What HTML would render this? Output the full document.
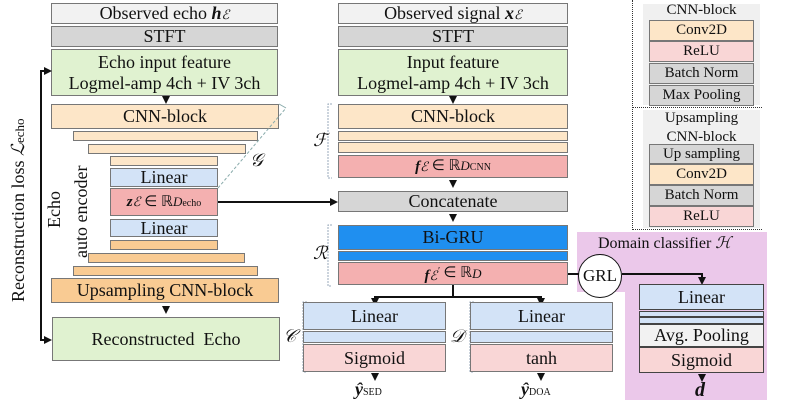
<!DOCTYPE html>
<html><head><meta charset="utf-8"><style>
body{margin:0;width:789px;height:400px;background:#fff;position:relative;overflow:hidden;font-family:"Liberation Serif",serif;color:#111}
.b{position:absolute;box-sizing:border-box;border:1px solid #777;display:flex;align-items:center;justify-content:center;text-align:center;font-size:18px;line-height:21px}
.gy{background:#d6d6d6}.lg{background:#f2f2f2}.gr{background:#e0f2d0}.or{background:#fde6c8}.od{background:#f9cb93}
.bl{background:#d3e3f7}.rd{background:#f4b0b0}.pk{background:#f9d6d6}.bb{background:#1f8ff0}
.t{position:absolute;font-size:18px;white-space:nowrap}
i{font-style:italic}
.vl{position:absolute;background:#111}
.ar{position:absolute;width:0;height:0;border-left:4px solid transparent;border-right:4px solid transparent;border-top:8px solid #111}
.ah{position:absolute;width:0;height:0;border-top:4px solid transparent;border-bottom:4px solid transparent;border-left:8px solid #111}
.s{font-size:13px}
</style></head><body>
<div style="position:absolute;left:577px;top:232px;width:190px;height:60px;background:#ebc8ea"></div>
<div style="position:absolute;left:625px;top:292px;width:142px;height:108px;background:#ebc8ea"></div>
<div style="position:absolute;left:632px;top:0;height:230px;border-left:1px dotted #333"></div>
<div style="position:absolute;left:632px;top:107px;width:130px;border-top:1px dotted #333"></div>
<div style="position:absolute;left:632px;top:229px;width:130px;border-top:1px dotted #333"></div>
<div style="position:absolute;left:643px;top:4px;width:117px;height:101px;background:#f0f0f0"></div>
<div style="position:absolute;left:643px;top:110px;width:117px;height:118px;background:#f0f0f0"></div>
<div class="t" style="left:643px;width:117px;text-align:center;top:2px;font-size:15px">CNN-block</div>
<div class="b or" style="left:649px;top:20px;width:105px;height:21px;font-size:15px">Conv2D</div>
<div class="b pk" style="left:649px;top:41px;width:105px;height:21px;font-size:15px">ReLU</div>
<div class="b gy" style="left:649px;top:63px;width:105px;height:21px;font-size:15px">Batch Norm</div>
<div class="b gy" style="left:649px;top:85px;width:105px;height:21px;font-size:15px">Max Pooling</div>
<div class="t" style="left:643px;width:117px;text-align:center;top:109px;font-size:15px;line-height:19px">Upsampling<br>CNN-block</div>
<div class="b gy" style="left:649px;top:144px;width:105px;height:20px;font-size:15px">Up sampling</div>
<div class="b or" style="left:649px;top:164px;width:105px;height:21px;font-size:15px">Conv2D</div>
<div class="b gy" style="left:649px;top:185px;width:105px;height:21px;font-size:15px">Batch Norm</div>
<div class="b pk" style="left:649px;top:206px;width:105px;height:21px;font-size:15px">ReLU</div>

<div class="b lg" style="left:51px;top:3px;width:227px;height:21px">Observed echo&nbsp;<i><b>h</b><span class="s">ℰ</span></i></div>
<div class="b gy" style="left:51px;top:26px;width:227px;height:21px">STFT</div>
<div class="b gr" style="left:51px;top:49px;width:227px;height:47px">Echo input feature<br>Logmel-amp 4ch + IV 3ch</div>
<div class="b or" style="left:51px;top:104px;width:228px;height:25px">CNN-block</div>
<div class="b or" style="left:73px;top:131px;width:185px;height:10px"></div>
<div class="b or" style="left:88px;top:144px;width:158px;height:10px"></div>
<div class="b or" style="left:110px;top:156px;width:108px;height:10px"></div>
<div class="b bl" style="left:110px;top:168px;width:108px;height:19px">Linear</div>
<div class="b rd" style="left:110px;top:188px;width:108px;height:28px;font-size:15px"><i><b>z</b><span class="s">ℰ</span></i>&nbsp;∈ ℝ<sup class="s"><i>D</i><span style="font-size:10px">echo</span></sup></div>
<div class="b bl" style="left:110px;top:219px;width:108px;height:18px">Linear</div>
<div class="b od" style="left:110px;top:240px;width:108px;height:10px"></div>
<div class="b od" style="left:88px;top:253px;width:157px;height:10px"></div>
<div class="b od" style="left:73px;top:266px;width:185px;height:10px"></div>
<div class="b od" style="left:51px;top:278px;width:228px;height:25px">Upsampling CNN-block</div>
<div class="b gr" style="left:52px;top:317px;width:228px;height:44px">Reconstructed&nbsp; Echo</div>
<div class="t" style="left:44px;top:228px;transform:rotate(-90deg);transform-origin:0 0;line-height:20px">Echo</div>
<div class="t" style="left:71px;top:258px;transform:rotate(-90deg);transform-origin:0 0;line-height:20px">auto encoder</div>
<div class="t" style="left:6px;top:302px;transform:rotate(-90deg);transform-origin:0 0;line-height:24px">Reconstruction loss <i>ℒ</i><span class="s">echo</span></div>
<div class="vl" style="left:40px;top:71px;width:2px;height:270px"></div>
<div class="vl" style="left:40px;top:70px;width:5px;height:2px"></div>
<div class="ah" style="left:44px;top:67px"></div>
<div class="vl" style="left:40px;top:339px;width:5px;height:2px"></div>
<div class="ah" style="left:44px;top:336px"></div>
<div class="ar" style="left:162px;top:96px"></div>
<div class="ar" style="left:162px;top:306px"></div>
<div class="t" style="left:250px;top:150px"><i>𝒢</i></div>
<svg style="position:absolute;left:0;top:0" width="789" height="400"><line x1="218" y1="188" x2="286" y2="108" stroke="#8aa" stroke-dasharray="3,2"/><line x1="279" y1="104" x2="286" y2="108" stroke="#8aa"/>
<path d="M332 104h-4v74h4M332 225h-4v61h4M307 302h-4v70h4M474 302h-4v70h4" fill="none" stroke="#9ab" stroke-dasharray="2,1"/></svg>

<div class="b lg" style="left:338px;top:3px;width:230px;height:21px">Observed signal&nbsp;<i><b>x</b><span class="s">ℰ</span></i></div>
<div class="b gy" style="left:338px;top:26px;width:230px;height:21px">STFT</div>
<div class="b gr" style="left:338px;top:49px;width:230px;height:47px">Input feature<br>Logmel-amp 4ch + IV 3ch</div>
<div class="b or" style="left:338px;top:104px;width:230px;height:25px">CNN-block</div>
<div class="b or" style="left:338px;top:131px;width:230px;height:10px"></div>
<div class="b or" style="left:338px;top:142px;width:230px;height:11px"></div>
<div class="b rd" style="left:338px;top:155px;width:230px;height:23px;font-size:15px"><i><b>f</b><span class="s">ℰ</span></i>&nbsp;∈ ℝ<sup class="s"><i>D</i><span style="font-size:10px">CNN</span></sup></div>
<div class="t" style="left:313px;top:130px"><i>ℱ</i></div>
<div class="b gy" style="left:338px;top:191px;width:230px;height:21px">Concatenate</div>
<div class="b bb" style="left:338px;top:225px;width:230px;height:25px">Bi-GRU</div>
<div class="b bb" style="left:338px;top:251px;width:230px;height:10px"></div>
<div class="b rd" style="left:338px;top:262px;width:230px;height:23px;font-size:15px"><i><b>f</b><span class="s">ℰ</span><sup style="font-size:10px">′</sup></i>&nbsp;∈ ℝ<sup class="s"><i>D</i></sup></div>
<div class="t" style="left:313px;top:243px"><i>ℛ</i></div>
<div class="ar" style="left:449px;top:96px"></div>
<div class="ar" style="left:449px;top:180px"></div>
<div class="ar" style="left:449px;top:214px"></div>
<div class="vl" style="left:218px;top:201px;width:112px;height:2px"></div>
<div class="ah" style="left:330px;top:198px"></div>
<div class="vl" style="left:452px;top:285px;width:2px;height:12px"></div>
<div class="vl" style="left:374px;top:296px;width:168px;height:2px"></div>
<div class="vl" style="left:374px;top:296px;width:2px;height:4px"></div>
<div class="vl" style="left:540px;top:296px;width:2px;height:4px"></div>
<div class="ar" style="left:371px;top:298px"></div>
<div class="ar" style="left:537px;top:298px"></div>
<div class="b bl" style="left:303px;top:302px;width:143px;height:28px">Linear</div>
<div class="b bl" style="left:303px;top:331px;width:143px;height:12px"></div>
<div class="b pk" style="left:303px;top:344px;width:143px;height:28px">Sigmoid</div>
<div class="b bl" style="left:470px;top:302px;width:143px;height:28px">Linear</div>
<div class="b bl" style="left:470px;top:331px;width:143px;height:12px"></div>
<div class="b pk" style="left:470px;top:344px;width:143px;height:28px">tanh</div>
<div class="t" style="left:283px;top:326px"><i>𝒞</i></div>
<div class="t" style="left:450px;top:326px"><i>𝒟</i></div>
<div class="ar" style="left:371px;top:373px"></div>
<div class="ar" style="left:537px;top:373px"></div>
<div class="t" style="left:355px;top:379px"><i><b>ŷ</b></i><span style="font-size:10px">SED</span></div>
<div class="t" style="left:521px;top:379px"><i><b>ŷ</b></i><span style="font-size:10px">DOA</span></div>

<div class="t" style="left:598px;top:233px;font-size:16px">Domain classifier <i>ℋ</i></div>
<div class="vl" style="left:568px;top:273px;width:12px;height:2px"></div>
<div style="position:absolute;left:578px;top:254px;width:44px;height:44px;border:1.5px solid #111;border-radius:50%;background:#fff;box-sizing:border-box;display:flex;align-items:center;justify-content:center;font-size:17px">GRL</div>
<div class="vl" style="left:622px;top:273px;width:81px;height:2px"></div>
<div class="vl" style="left:701px;top:273px;width:2px;height:5px"></div>
<div class="ar" style="left:698px;top:277px"></div>
<div class="b bl" style="left:639px;top:284px;width:125px;height:26px;border-color:#444">Linear</div>
<div class="b bl" style="left:639px;top:311px;width:125px;height:6px;border-color:#444"></div>
<div class="b bl" style="left:639px;top:317px;width:125px;height:7px;border-color:#444"></div>
<div class="b lg" style="left:639px;top:324px;width:125px;height:23px;border-color:#444">Avg. Pooling</div>
<div class="b pk" style="left:639px;top:347px;width:125px;height:26px;border-color:#444">Sigmoid</div>
<div class="ar" style="left:698px;top:374px"></div>
<div class="t" style="left:695px;top:379px;font-size:20px"><i><b>d</b></i></div>
</body></html>
